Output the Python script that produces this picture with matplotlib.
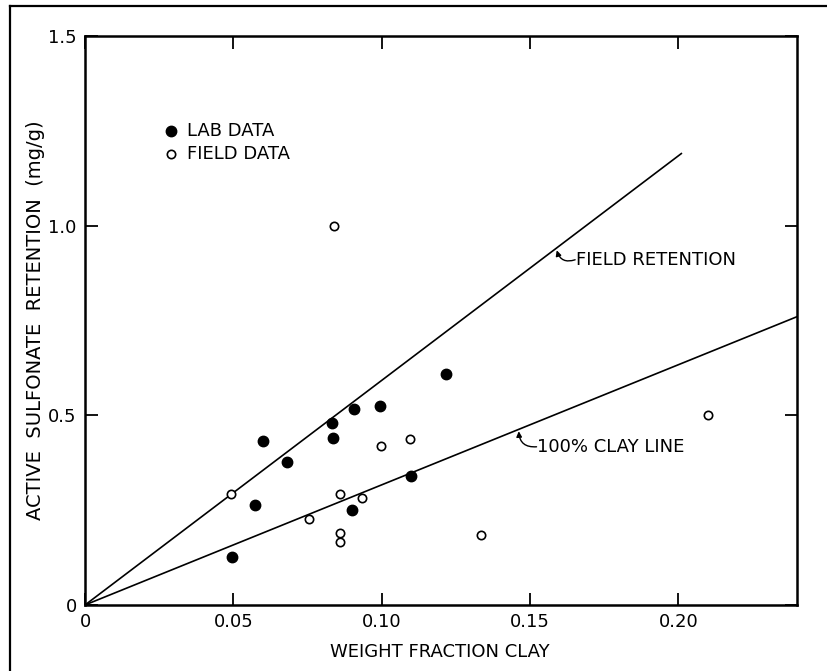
import matplotlib.pyplot as plt
from matplotlib.lines import Line2D

plt.rcParams['font.family'] = ['DejaVu Sans']

# lab data (filled)
lab_x = [0.0497, 0.0573, 0.0601, 0.0682, 0.0833, 0.0836, 0.0899, 0.0905, 0.0995, 0.1098, 0.1216]
lab_y = [0.126, 0.264, 0.433, 0.376, 0.481, 0.441, 0.250, 0.516, 0.525, 0.341, 0.608]

# field data (open)
field_x = [0.0491, 0.0755, 0.0838, 0.0858, 0.0858, 0.0858, 0.0934, 0.0996, 0.1094, 0.1336, 0.2101]
field_y = [0.293, 0.226, 1.000, 0.292, 0.189, 0.165, 0.283, 0.419, 0.438, 0.184, 0.501]

# straight lines through origin
field_line_x = [0.0, 0.201]
field_line_y = [0.0, 1.19]
clay_line_x = [0.0, 0.24]
clay_line_y = [0.0, 0.76]

xticks = [0, 0.05, 0.10, 0.15, 0.20]
xtick_labels = ['0', '0.05', '0.10', '0.15', '0.20']
yticks = [0, 0.5, 1.0, 1.5]
ytick_labels = ['0', '0.5', '1.0', '1.5']

fig = plt.figure(figsize=(8.28, 6.71), dpi=100)
ax = fig.add_axes([0.1027, 0.0984, 0.8599, 0.848])

ax.plot(field_line_x, field_line_y, color='black', lw=1.2)
ax.plot(clay_line_x, clay_line_y, color='black', lw=1.2)

ax.plot(lab_x, lab_y, 'o', color='black', ms=7.5)
ax.plot(field_x, field_y, 'o', mfc='white', mec='black', mew=1.2, ms=6)

# legend drawn as text like the original
ax.plot([0.0289], [1.25], 'o', color='black', ms=7.5)
ax.plot([0.0289], [1.19], 'o', mfc='white', mec='black', mew=1.2, ms=6)
ax.text(0.0345, 1.25, 'LAB DATA', fontsize=13, va='center')
ax.text(0.0345, 1.19, 'FIELD DATA', fontsize=13, va='center')

# line labels with small hooked arrows
ax.text(0.1655, 0.91, 'FIELD RETENTION', fontsize=13, va='center')
ax.annotate('', xy=(0.159, 0.935), xytext=(0.1652, 0.91),
            arrowprops=dict(arrowstyle='-|>', color='black', lw=1.0,
                            connectionstyle='arc3,rad=-0.5', mutation_scale=8,
                            shrinkA=0, shrinkB=0))
ax.text(0.1525, 0.417, '100% CLAY LINE', fontsize=13, va='center')
ax.annotate('', xy=(0.1462, 0.458), xytext=(0.1522, 0.417),
            arrowprops=dict(arrowstyle='-|>', color='black', lw=1.0,
                            connectionstyle='arc3,rad=-0.5', mutation_scale=8,
                            shrinkA=0, shrinkB=0))

ax.set_xlim(0, 0.24)
ax.set_ylim(0, 1.5)
ax.set_xticks(xticks)
ax.set_xticklabels(xtick_labels)
ax.set_yticks(yticks)
ax.set_yticklabels(ytick_labels)
ax.tick_params(direction='in', length=9, width=1.3, top=True, right=True,
               labelsize=13, pad=6)
for s in ax.spines.values():
    s.set_linewidth(1.8)

fig.text(440 / 828, 1 - 652 / 671, 'WEIGHT FRACTION CLAY', fontsize=13,
         ha='center', va='center')
fig.text(36 / 828, 1 - 320 / 671, 'ACTIVE  SULFONATE  RETENTION  (mg/g)', fontsize=14,
         rotation=90, ha='center', va='center')

# frame lines of the scanned page (top and left only)
fig.add_artist(Line2D([0.012, 1.0], [0.991, 0.991], transform=fig.transFigure,
                      color='black', lw=1.6))
fig.add_artist(Line2D([0.012, 0.012], [0.0, 0.991], transform=fig.transFigure,
                      color='black', lw=1.6))

plt.savefig('out.png', dpi=100)
